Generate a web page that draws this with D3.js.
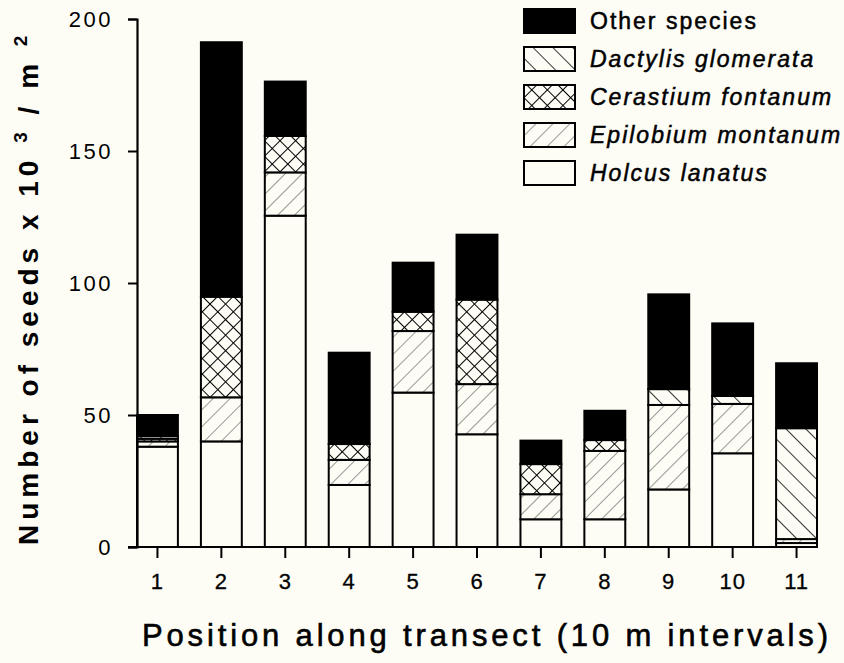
<!DOCTYPE html>
<html>
<head>
<meta charset="utf-8">
<title>Seed bank along transect</title>
<script src="https://d3js.org/d3.v7.min.js"></script>
<style>
  html, body { margin: 0; padding: 0; background: #fdfdf6; }
  svg { display: block; }
  text { font-family: "Liberation Sans", Arial, sans-serif; fill: #000; }
</style>
</head>
<body>
<script>
// values (seeds x 10^3 / m^2)
const positions  = ["1", "2", "3", "4", "5", "6", "7", "8", "9", "10", "11"];
const holcus     = [38, 40, 125.5, 23.5, 58.5, 42.7, 10.5, 10.5, 21.8, 35.5, 1.5];
const epilobium  = [2, 16.7, 16.4, 9.5, 23.3, 19, 9.5, 25.9, 32, 18.7, 1.5];
const cerastium  = [1, 38.1, 13.8, 6, 7.3, 32, 11.4, 4.1, 0, 0, 0];
const dactylis   = [1, 0, 0, 0, 0, 0, 0, 0, 6, 3, 42];
const other      = [8, 96.4, 20.6, 34.6, 18.6, 24.6, 8.9, 11.1, 35.9, 27.5, 24.6];
const yTicks     = [0, 50, 100, 150, 200];

const keys = ["holcus", "epilobium", "cerastium", "dactylis", "other"];
const legendItems = [
  {key: "other", label: "Other species", italic: false},
  {key: "dactylis", label: "Dactylis glomerata", italic: true},
  {key: "cerastium", label: "Cerastium fontanum", italic: true},
  {key: "epilobium", label: "Epilobium montanum", italic: true},
  {key: "holcus", label: "Holcus lanatus", italic: true}
];

const rows = positions.map((p, i) => ({
  pos: p, holcus: holcus[i], epilobium: epilobium[i], cerastium: cerastium[i],
  dactylis: dactylis[i], other: other[i]
}));

const width = 844, height = 663;
const plotLeft = 137, plotRight = 817, plotTop = 19, plotBottom = 547;
const paper = "#fdfdf6";

const svg = d3.select("body").append("svg")
  .attr("width", width).attr("height", height);

svg.append("rect").attr("width", width).attr("height", height).attr("fill", paper);

// hatch patterns
const defs = svg.append("defs");
function linePattern(id, spacing, angle, sw, col) {
  const p = defs.append("pattern")
    .attr("id", id)
    .attr("patternUnits", "userSpaceOnUse")
    .attr("width", spacing).attr("height", spacing)
    .attr("patternTransform", `rotate(${angle})`);
  p.append("rect").attr("width", spacing).attr("height", spacing).attr("fill", paper);
  p.append("line").attr("x1", 0).attr("y1", 0).attr("x2", 0).attr("y2", spacing)
    .attr("stroke", col).attr("stroke-width", sw);
  return p;
}
linePattern("pat-dactylis", 14, -45, 1.7, "#111");
linePattern("pat-epilobium", 12, 45, 1.1, "#444");
// cross hatch: two line sets
const cross = defs.append("pattern")
  .attr("id", "pat-cerastium")
  .attr("patternUnits", "userSpaceOnUse")
  .attr("width", 11).attr("height", 11)
  .attr("patternTransform", "rotate(45)");
cross.append("rect").attr("width", 11).attr("height", 11).attr("fill", paper);
cross.append("line").attr("x1", 0).attr("y1", 0).attr("x2", 0).attr("y2", 11)
  .attr("stroke", "#000").attr("stroke-width", 2);
cross.append("line").attr("x1", 0).attr("y1", 0).attr("x2", 11).attr("y2", 0)
  .attr("stroke", "#000").attr("stroke-width", 2);

const fills = {
  holcus: paper,
  epilobium: "url(#pat-epilobium)",
  cerastium: "url(#pat-cerastium)",
  dactylis: "url(#pat-dactylis)",
  other: "#000"
};

const x = d3.scaleBand()
  .domain(positions)
  .range([plotLeft, plotRight])
  .paddingInner(0.36)
  .paddingOuter(0);

const y = d3.scaleLinear()
  .domain([0, 200])
  .range([plotBottom, plotTop]);

const series = d3.stack().keys(keys)(rows);

// bars
svg.append("g").selectAll("g")
  .data(series)
  .join("g")
  .attr("fill", d => fills[d.key])
  .selectAll("rect")
  .data(d => d.filter(s => s[1] - s[0] > 0))
  .join("rect")
  .attr("x", d => x(d.data.pos))
  .attr("y", d => y(d[1]))
  .attr("width", x.bandwidth())
  .attr("height", d => y(d[0]) - y(d[1]))
  .attr("stroke", "#000")
  .attr("stroke-width", 2);

// y axis
const yAxis = svg.append("g")
  .attr("transform", `translate(${plotLeft},0)`)
  .call(d3.axisLeft(y).tickValues(yTicks).tickSize(9).tickPadding(15));
yAxis.select(".domain").attr("stroke-width", 2.2);
yAxis.selectAll(".tick line").attr("stroke-width", 2);
yAxis.selectAll(".tick text")
  .attr("font-size", 22)
  .attr("letter-spacing", "2.5px")
  .attr("font-family", "Liberation Sans, Arial, sans-serif");

// x axis
const xAxis = svg.append("g")
  .attr("transform", `translate(0,${plotBottom})`)
  .call(d3.axisBottom(x).tickSize(11).tickPadding(15));
xAxis.select(".domain").remove();
xAxis.append("line")
  .attr("x1", plotLeft - 9).attr("x2", plotRight)
  .attr("stroke", "#000").attr("stroke-width", 2.2);
xAxis.selectAll(".tick line").attr("stroke-width", 2);
xAxis.selectAll(".tick text")
  .attr("font-size", 22)
  .attr("letter-spacing", "1px")
  .attr("font-family", "Liberation Sans Narrow, Liberation Sans, Arial, sans-serif")
  .attr("stroke", "#000").attr("stroke-width", 0.3);

// axis titles
svg.append("text")
  .attr("x", 142).attr("y", 646)
  .attr("font-size", 31)
  .attr("font-family", "Liberation Sans Narrow, DejaVu Sans Condensed, Liberation Sans, sans-serif")
  .attr("stroke", "#000").attr("stroke-width", 0.6)
  .attr("textLength", 686)
  .attr("lengthAdjust", "spacing")
  .text("Position along transect (10 m intervals)");

const yTitle = svg.append("text")
  .attr("transform", "translate(38,545) rotate(-90)")
  .attr("font-size", 28)
  .attr("font-weight", "bold")
  .attr("letter-spacing", "5px");
yTitle.append("tspan").text("Number of seeds x 10 ");
yTitle.append("tspan").attr("dy", -11).attr("font-size", 19).text("3");
yTitle.append("tspan").attr("dy", 11).text(" / m ");
yTitle.append("tspan").attr("dy", -11).attr("font-size", 19).text("2");

// legend
const lg = svg.append("g").selectAll("g")
  .data(legendItems)
  .join("g")
  .attr("transform", (d, i) => `translate(524,${21 + i * 38})`);
lg.append("rect")
  .attr("x", 0).attr("y", -12)
  .attr("width", 51).attr("height", 24)
  .attr("fill", d => fills[d.key])
  .attr("stroke", "#000").attr("stroke-width", 2);
lg.append("text")
  .attr("x", 66).attr("y", 8)
  .attr("font-size", 23)
  .attr("letter-spacing", "2px")
  .attr("stroke", "#000").attr("stroke-width", 0.5)
  .attr("font-style", d => d.italic ? "italic" : "normal")
  .text(d => d.label);
</script>
</body>
</html>
